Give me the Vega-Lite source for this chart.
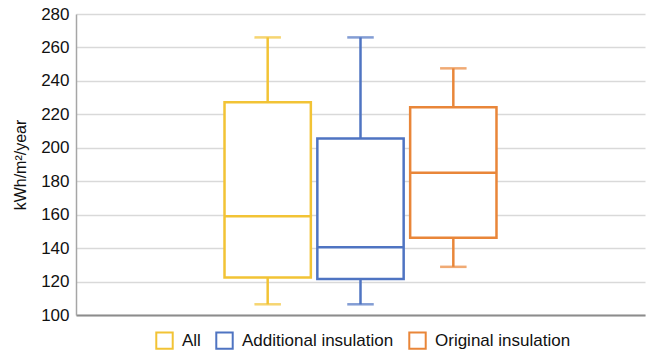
{
  "$schema": "https://vega.github.io/schema/vega-lite/v6.json",
  "width": 569,
  "height": 301,
  "autosize": "none",
  "padding": {"left": 76, "top": 14, "right": 3, "bottom": 35},
  "background": "white",
  "data": {
    "values": [
      {"group": "All", "min": 106.4, "q1": 122.5, "median": 159, "q3": 227.3, "max": 266},
      {"group": "Additional insulation", "min": 106.4, "q1": 121.5, "median": 140.5, "q3": 205.6, "max": 266},
      {"group": "Original insulation", "min": 128.8, "q1": 146.2, "median": 185, "q3": 224.2, "max": 247.5}
    ]
  },
  "encoding": {
    "x": {
      "field": "group", "type": "nominal",
      "scale": {"domain": [" ", "All", "Additional insulation", "Original insulation", "  "], "paddingInner": 0.07, "paddingOuter": 0.6},
      "axis": {"labels": false, "ticks": false, "title": null, "domainColor": "#8c8c8c", "domainWidth": 2}
    },
    "stroke": {
      "field": "group", "type": "nominal",
      "scale": {"domain": ["All", "Additional insulation", "Original insulation"], "range": ["#F2C335", "#4F74C2", "#E98639"]},
      "legend": {
        "title": null, "orient": "none", "legendX": 79, "legendY": 317, "direction": "horizontal",
        "symbolType": "square", "symbolFillColor": "white", "symbolStrokeWidth": 2, "symbolSize": 270,
        "labelFontSize": 17, "labelFont": "Liberation Sans", "labelColor": "#111", "columnPadding": 11, "labelOffset": 8
      }
    }
  },
  "layer": [
    {
      "mark": {"type": "rule", "strokeWidth": 2.5},
      "encoding": {
        "y": {"field": "min", "type": "quantitative", "scale": {"domain": [100, 280], "nice": false}},
        "y2": {"field": "q1"}
      }
    },
    {
      "mark": {"type": "rule", "strokeWidth": 2.5},
      "encoding": {"y": {"field": "q3", "type": "quantitative"}, "y2": {"field": "max"}}
    },
    {
      "mark": {"type": "bar", "fill": "white", "strokeWidth": 2.5},
      "encoding": {"y": {"field": "q1", "type": "quantitative"}, "y2": {"field": "q3"}}
    },
    {
      "mark": {"type": "bar", "fill": "white", "strokeWidth": 2.5},
      "encoding": {"y": {"field": "median", "type": "quantitative"}, "y2": {"field": "median"}}
    },
    {
      "mark": {"type": "tick", "size": 24, "thickness": 0.01, "filled": false, "strokeWidth": 2.5, "orient": "horizontal"},
      "encoding": {"y": {"field": "min", "type": "quantitative"}}
    },
    {
      "mark": {"type": "tick", "size": 24, "thickness": 0.01, "filled": false, "strokeWidth": 2.5, "orient": "horizontal"},
      "encoding": {"y": {"field": "max", "type": "quantitative", "title": "kWh/m²/year"}}
    }
  ],
  "config": {
    "view": {"stroke": null},
    "font": "Liberation Sans",
    "axisY": {
      "values": [100,120,140,160,180,200,220,240,260,280], "labelOverlap": false,
      "titleFontSize": 16, "titleFont": "Liberation Sans", "titleFontWeight": "normal", "titleColor": "#111", "titlePadding": 12,
      "labelFontSize": 17, "labelFont": "Liberation Sans", "labelColor": "#111", "labelPadding": 7, "ticks": false,
      "grid": true, "gridColor": "#d9d9d9", "gridWidth": 1.5, "domainColor": "#a6a6a6", "domainWidth": 1.5
    }
  }
}
